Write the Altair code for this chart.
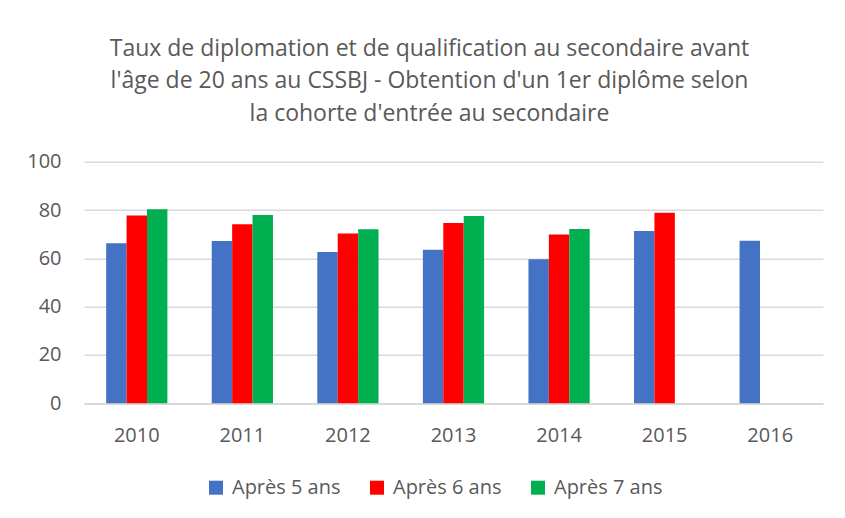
import altair as alt
import pandas as pd

annees = ["2010", "2011", "2012", "2013", "2014", "2015", "2016"]
series = ["Après 5 ans", "Après 6 ans", "Après 7 ans"]
apres_5 = [66.2, 67.2, 62.6, 63.6, 59.6, 71.3, 67.3]
apres_6 = [77.7, 74.1, 70.3, 74.6, 69.9, 78.9, None]
apres_7 = [80.3, 77.9, 72.0, 77.5, 72.1, None, None]
couleurs = ["#4472C4", "#FF0000", "#00B050"]
y_ticks = [0, 20, 40, 60, 80, 100]
titre = [
    "Taux de diplomation et de qualification au secondaire avant",
    "l'âge de 20 ans au CSSBJ - Obtention d'un 1er diplôme selon",
    "la cohorte d'entrée au secondaire",
]

rows = []
for nom, vals in zip(series, [apres_5, apres_6, apres_7]):
    for a, v in zip(annees, vals):
        if v is not None:
            rows.append({"annee": a, "serie": nom, "valeur": v})
df = pd.DataFrame(rows)

FONT = "Open Sans"
GREY = "#595959"
GRID = "#D9D9D9"

chart = (
    alt.Chart(df)
    .mark_bar()
    .encode(
        x=alt.X(
            "annee:N",
            sort=annees,
            scale=alt.Scale(domain=annees, paddingInner=0.42, paddingOuter=0.21),
            axis=alt.Axis(
                title=None,
                labelAngle=0,
                ticks=False,
                tickSize=0,
                labelPadding=22,
                domainColor=GRID,
                domainWidth=1.5,
                labelFont=FONT,
                labelFontSize=20,
                labelColor=GREY,
            ),
        ),
        xOffset=alt.XOffset(
            "serie:N", sort=series, scale=alt.Scale(domain=series, paddingInner=0, paddingOuter=0)
        ),
        y=alt.Y(
            "valeur:Q",
            scale=alt.Scale(domain=[0, 100], nice=False),
            axis=alt.Axis(
                title=None,
                values=y_ticks,
                grid=True,
                gridColor=GRID,
                gridWidth=1.5,
                domain=False,
                ticks=False,
                tickSize=0,
                labelPadding=23,
                labelFont=FONT,
                labelFontSize=20,
                labelColor=GREY,
            ),
        ),
        color=alt.Color(
            "serie:N",
            sort=series,
            scale=alt.Scale(domain=series, range=couleurs),
            legend=alt.Legend(
                title=None,
                orient="none",
                direction="horizontal",
                legendX=122,
                legendY=316,
                symbolType="square",
                symbolSize=196,
                symbolStrokeWidth=0,
                labelFont=FONT,
                labelFontSize=20,
                labelColor=GREY,
                labelOffset=6,
                columnPadding=26,
                padding=0,
            ),
        ),
    )
    .properties(
        width=739,
        height=241.6,
        padding={"left": 76, "top": 153.7, "right": 14, "bottom": 100},
        autosize=alt.AutoSizeParams(type="none"),
        background="white",
        title=alt.TitleParams(
            text=titre,
            font=FONT,
            fontSize=23,
            fontWeight="normal",
            color=GREY,
            lineHeight=32.5,
            anchor="middle",
            dx=-24,
            offset=26,
        ),
    )
    .configure_view(stroke=None)
)

chart.save("out.html", embed_options={"renderer": "svg", "actions": False})
